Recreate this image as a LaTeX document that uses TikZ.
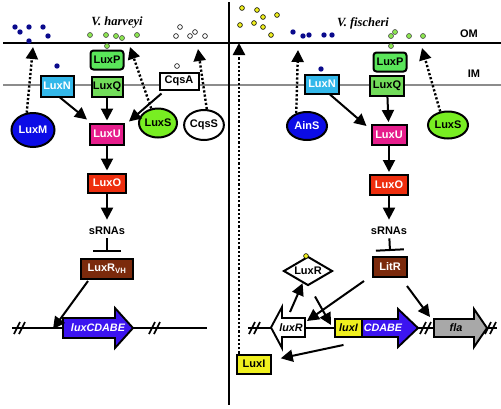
\documentclass[tikz,border=0pt]{standalone}
\usepackage{fontspec}
\setmainfont{Liberation Serif}
\setsansfont{Liberation Sans}
\usetikzlibrary{shapes.geometric,arrows.meta}
\definecolor{cP}{HTML}{5AE65A}
\definecolor{cQ}{HTML}{72DC5A}
\definecolor{cN}{HTML}{33B8EA}
\definecolor{cU}{HTML}{E61E8C}
\definecolor{cO}{HTML}{EE2E0E}
\definecolor{cBr}{HTML}{7B2A0C}
\definecolor{cM}{HTML}{0C0CE6}
\definecolor{cS}{HTML}{78EE22}
\definecolor{cGene}{HTML}{3C14F0}
\definecolor{cY}{HTML}{F0F01E}
\definecolor{cGr}{HTML}{A8A8A8}
\definecolor{cNavy}{HTML}{0A0A8C}
\definecolor{cGd}{HTML}{8CE650}
\definecolor{cIM}{HTML}{8C8C8C}
\begin{document}
\begin{tikzpicture}[x=1pt,y=-1pt,
  lab/.style={font=\sffamily\bfseries\fontsize{11}{12}\selectfont},
  box/.style={lab, draw, line width=2pt, inner sep=0pt, rectangle},
  oval/.style={lab, draw, line width=2pt, inner sep=0pt, ellipse},
  arr/.style={line width=2pt, -{Triangle[length=12pt,width=12pt]}},
  dotarr/.style={line width=2.4pt, dash pattern=on 2.2pt off 2pt, -{Triangle[length=12pt,width=12pt]}},
  inh/.style={line width=2pt, -{Bar[width=28pt,line width=2pt]}},
  gene/.style={draw, line width=1.9pt, line join=miter},
  genetxt/.style={font=\sffamily\bfseries\itshape\fontsize{10.8}{12}\selectfont, inner sep=0pt},
  ttl/.style={font=\rmfamily\bfseries\itshape\fontsize{12.5}{14}\selectfont},
  bdot/.style={fill=cNavy},
  gdot/.style={fill=cGd, draw=black!70, line width=0.6pt},
  wdot/.style={fill=white, draw=black, line width=0.6pt},
  ydot/.style={fill=cY, draw=black, line width=0.6pt},
  brk/.pic={\draw[line width=1.7pt] (-6,6)--(0,-6) (-1,6)--(5,-6);},
]
\useasboundingbox (0,0) rectangle (501,408);

% membranes and divider
\draw[line width=1.3pt] (3,43) -- (501,43);
\draw[line width=1.3pt, cIM] (3,85) -- (501,85);
\draw[line width=2pt] (228.5,2) -- (228.5,405);

% titles
\node[ttl] (tH) at (117,23) {V. harveyi};
\node[ttl] (tF) at (363,23) {V. fischeri};
\node[lab] (tOM) at (469,34) {OM};
\node[lab] (tIM) at (474,74) {IM};

% ---------------- left: V. harveyi ----------------
\node[box, fill=cP, rounded corners=3pt, minimum width=33pt, minimum height=19pt] (lP) at (107,60) {LuxP};
\node[box, fill=cQ, minimum width=31pt, minimum height=20pt] (lQ) at (107,87) {LuxQ};
\node[box, fill=cN, text=white, minimum width=33pt, minimum height=21pt] (lN) at (57,86) {LuxN};
\node[box, fill=white, minimum width=39pt, minimum height=17pt] (lA) at (179,81) {CqsA};
\node[box, fill=cU, text=white, minimum width=34pt, minimum height=21pt] (lU) at (107,134) {LuxU};
\node[box, fill=cO, text=white, minimum width=38pt, minimum height=19pt] (lO) at (107,183) {LuxO};
\node[oval, fill=cM, text=white, minimum width=43pt, minimum height=34pt] (lM) at (33,130) {LuxM};
\node[oval, fill=cS, minimum width=38pt, minimum height=29pt] (lS) at (158,123) {LuxS};
\node[oval, fill=white, minimum width=38pt, minimum height=30pt] (lC) at (204,125) {CqsS};
\node[lab] (lsR) at (107,231) {sRNAs};
\node[box, fill=cBr, text=white, minimum width=52pt, minimum height=20pt] (lR) at (107,269) {LuxR\textsubscript{VH}};

% left dots
\foreach \p in {(15,27),(20,32),(29,27),(43,27),(48,36),(29,41),(57,66)}
  \fill[bdot] \p circle[radius=2.7pt];
\foreach \p in {(90,35),(106,35),(116,36),(122,38),(137,35),(107,46)}
  \filldraw[gdot] \p circle[radius=2.5pt];
\foreach \p in {(180,27),(176,36),(190,36),(195,32),(205,36),(177,66)}
  \filldraw[wdot] \p circle[radius=2.4pt];

% left DNA
\draw[line width=1.7pt] (12,328) -- (207,328);
\pic at (20,328) {brk};
\pic at (155,328) {brk};
\draw[gene, fill=cGene] (63,318) -- (115,318) -- (115,308) -- (133,328) -- (115,348) -- (115,338) -- (63,338) -- cycle;
\node[genetxt, text=white] (gL) at (98,328) {luxCDABE};

% left coordinates
\coordinate (tipM) at (33,47);
\coordinate (tipS) at (130,47);
\coordinate (tipC) at (198,49);
\coordinate (tipVH) at (53,329);

% left connectors
\draw[dotarr] (lM.110) -- (tipM);
\draw[dotarr] (lS.115) -- (tipS);
\draw[dotarr] (lC.80) -- (tipC);
\draw[arr] ([xshift=3pt]lN.south) -- ([shift={(-2,-3)}]lU.north west);
\draw[arr, shorten >=2pt] (lQ) -- (lU);
\draw[arr] ([shift={(3,3)}]lA.south west) -- ([shift={(4,-1)}]lU.north east);
\draw[arr, shorten >=2pt] (lU) -- (lO);
\draw[arr, shorten >=4pt] (lO) -- (lsR);
\draw[inh] (lsR) -- ([shift={(0,-6)}]lR.north);
\draw[arr] ([shift={(-19,1)}]lR.south) -- (tipVH);

% ---------------- right: V. fischeri ----------------
\node[box, fill=cP, rounded corners=3pt, minimum width=33pt, minimum height=19pt] (rP) at (390,62) {LuxP};
\node[box, fill=cQ, minimum width=34pt, minimum height=20pt] (rQ) at (387,86) {LuxQ};
\node[box, fill=cN, text=white, minimum width=34pt, minimum height=19pt] (rN) at (322,84) {LuxN};
\node[box, fill=cU, text=white, minimum width=35pt, minimum height=20pt] (rU) at (389,135) {LuxU};
\node[box, fill=cO, text=white, minimum width=38pt, minimum height=20pt] (rO) at (389,185) {LuxO};
\node[oval, fill=cM, text=white, minimum width=40pt, minimum height=28pt] (rA) at (307,126) {AinS};
\node[oval, fill=cS, minimum width=40pt, minimum height=27pt] (rS) at (448,125) {LuxS};
\node[lab] (rsR) at (389,231) {sRNAs};
\node[box, fill=cBr, text=white, minimum width=34pt, minimum height=20pt] (rL) at (390,267) {LitR};
\node[lab, draw, line width=2pt, fill=white, diamond, aspect=1.7, inner sep=0pt, minimum width=49pt, minimum height=29pt] (rX) at (308,271) {LuxR};
\node[box, fill=cY, minimum width=34pt, minimum height=19pt] (rI) at (254,364) {LuxI};

% right dots
\foreach \p in {(242,8),(257,10),(263,17),(277,15),(240,25),(254,23),(263,27),(271,35),(306,256)}
  \filldraw[ydot] \p circle[radius=2.4pt];
\foreach \p in {(293,32),(303,36),(309,35),(324,35),(332,35),(321,69)}
  \fill[bdot] \p circle[radius=2.7pt];
\foreach \p in {(391,36),(395,32),(409,36),(423,36),(391,46)}
  \filldraw[gdot] \p circle[radius=2.5pt];

% right DNA
\draw[line width=1.7pt] (248,328) -- (497,328);
\pic at (255,328) {brk};
\pic at (426,328) {brk};
\pic at (491,328) {brk};
\draw[gene, fill=white] (305,318) -- (282,318) -- (282,307) -- (271,327.5) -- (282,348) -- (282,337) -- (305,337) -- cycle;
\node[genetxt] (gR) at (291,327.5) {luxR};
\draw[gene, fill=cGene] (362,319) -- (398,319) -- (398,309) -- (418,328) -- (398,347) -- (398,337) -- (362,337) -- cycle;
\node[genetxt, text=white] (gC) at (383,328) {CDABE};
\node[gene, genetxt, fill=cY, minimum width=27pt, minimum height=18pt] (gI) at (348.5,328) {luxI};
\draw[gene, fill=cGr] (434,319) -- (474,319) -- (474,309) -- (487,328) -- (474,347) -- (474,337) -- (434,337) -- cycle;
\node[genetxt] (gF) at (456,328) {fla};

% right coordinates
\coordinate (tipI) at (239,43);
\coordinate (tipA) at (298,50);
\coordinate (tipRS) at (422,48);
\coordinate (luxRtop) at (290,312);
\coordinate (tipLuxIg) at (331,325);
\coordinate (tipLuxR) at (307,321);
\coordinate (tipFla) at (430,317);

% right connectors
\draw[dotarr] ([xshift=-15pt]rI.north) -- (tipI);
\draw[dotarr] (rA.130) -- (tipA);
\draw[dotarr] (rS.120) -- (tipRS);
\draw[arr] ([xshift=8pt]rN.south) -- ([shift={(-4,2)}]rU.north west);
\draw[arr, shorten >=2pt] (rQ) -- (rU);
\draw[arr, shorten >=2pt] (rU) -- (rO);
\draw[arr, shorten >=4pt] (rO) -- (rsR);
\draw[inh] (rsR) -- ([shift={(0,-5)}]rL.north);
\draw[arr] (luxRtop) -- (rX);
\draw[arr] ([shift={(7,10)}]rX.south) -- (tipLuxIg);
\draw[arr] ([shift={(-8,3)}]rL.south west) -- (tipLuxR);
\draw[arr] ([shift={(-1,8)}]rL.south east) -- (tipFla);
\draw[arr, shorten >=9pt] ([shift={(-5,7)}]gI.south) -- (rI);
\end{tikzpicture}
\end{document}
